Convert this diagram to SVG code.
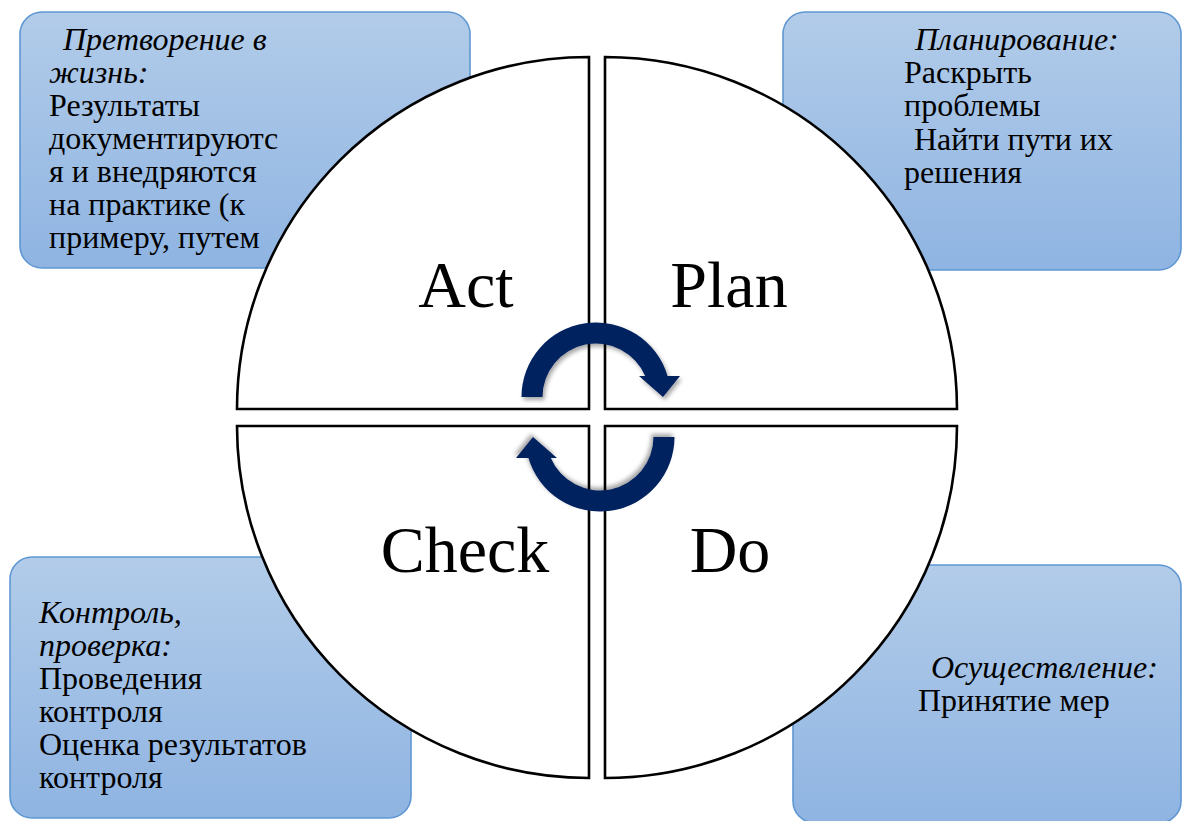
<svg xmlns="http://www.w3.org/2000/svg" width="1182" height="821" viewBox="0 0 1182 821">
<style>
.box{stroke:#5f97d2;stroke-width:1.6;fill:url(#bg)}
.t{font-family:"Liberation Serif","Times New Roman",serif;font-size:32px;fill:#000}
.i{font-style:italic}
.q{fill:#fff;stroke:#000;stroke-width:2.6;stroke-linejoin:miter}
.big{font-family:"Liberation Serif","Times New Roman",serif;font-size:66px;fill:#000;text-anchor:middle}
.arr{fill:#00205f;filter:url(#sh)}
</style>
<defs>
<linearGradient id="bg" x1="0" y1="0" x2="0" y2="1">
<stop offset="0" stop-color="#b2cce9"/>
<stop offset="1" stop-color="#8fb4e2"/>
</linearGradient>
<filter id="sh" x="-20%" y="-20%" width="150%" height="150%">
<feDropShadow dx="2" dy="3" stdDeviation="2" flood-color="#000" flood-opacity="0.35"/>
</filter>
</defs>
<rect width="1182" height="821" fill="#fff"/>
<g id="box-act">
<rect class="box" x="20" y="12" width="450" height="256" rx="22"/>
<text class="t"><tspan class="i" x="63" y="50">Претворение в</tspan><tspan class="i" x="49" y="83">жизнь:</tspan><tspan x="49" y="116">Результаты</tspan><tspan x="49" y="149">документируютс</tspan><tspan x="49" y="182">я и внедряются</tspan><tspan x="49" y="215">на практике (к</tspan><tspan x="49" y="248">примеру, путем</tspan></text>
</g>
<g id="box-plan">
<rect class="box" x="783" y="12" width="398" height="258" rx="22"/>
<text class="t"><tspan class="i" x="915" y="50">Планирование:</tspan><tspan x="904" y="83">Раскрыть</tspan><tspan x="904" y="116">проблемы</tspan><tspan x="914" y="150">Найти пути их</tspan><tspan x="904" y="183">решения</tspan></text>
</g>
<g id="box-check">
<rect class="box" x="10" y="557" width="401" height="261" rx="22"/>
<text class="t"><tspan class="i" x="39" y="623">Контроль,</tspan><tspan class="i" x="39" y="656">проверка:</tspan><tspan x="39" y="689">Проведения</tspan><tspan x="39" y="722">контроля</tspan><tspan x="39" y="755">Оценка результатов</tspan><tspan x="39" y="788">контроля</tspan></text>
</g>
<g id="box-do">
<rect class="box" x="793" y="565" width="388" height="258" rx="22"/>
<text class="t"><tspan class="i" x="931" y="678">Осуществление:</tspan><tspan x="918" y="711">Принятие мер</tspan></text>
</g>
<g id="q-act">
<path class="q" d="M589 409 L237 409 A352 352 0 0 1 589 57 Z"/>
<text class="big" x="466" y="307">Act</text>
</g>
<g id="q-plan">
<path class="q" d="M605 409 L605 57 A352 352 0 0 1 957 409 Z"/>
<text class="big" x="729" y="307">Plan</text>
</g>
<g id="q-do">
<path class="q" d="M605 426 L957 426 A352 352 0 0 1 605 778 Z"/>
<text class="big" x="730" y="572">Do</text>
</g>
<g id="q-check">
<path class="q" d="M589 426 L589 778 A352 352 0 0 1 237 426 Z"/>
<text class="big" x="465" y="572">Check</text>
</g>
<g id="connectors">
<path class="arr" d="M521.5 397 A74.5 74.5 0 0 1 667.5 376 L680 376 L663 397 L639 376 L645.2 376 A53.5 53.5 0 0 0 542.5 397 Z"/>
<path class="arr" transform="rotate(180 598 417)" d="M521.5 397 A74.5 74.5 0 0 1 667.5 376 L680 376 L663 397 L639 376 L645.2 376 A53.5 53.5 0 0 0 542.5 397 Z"/>
</g>
</svg>
